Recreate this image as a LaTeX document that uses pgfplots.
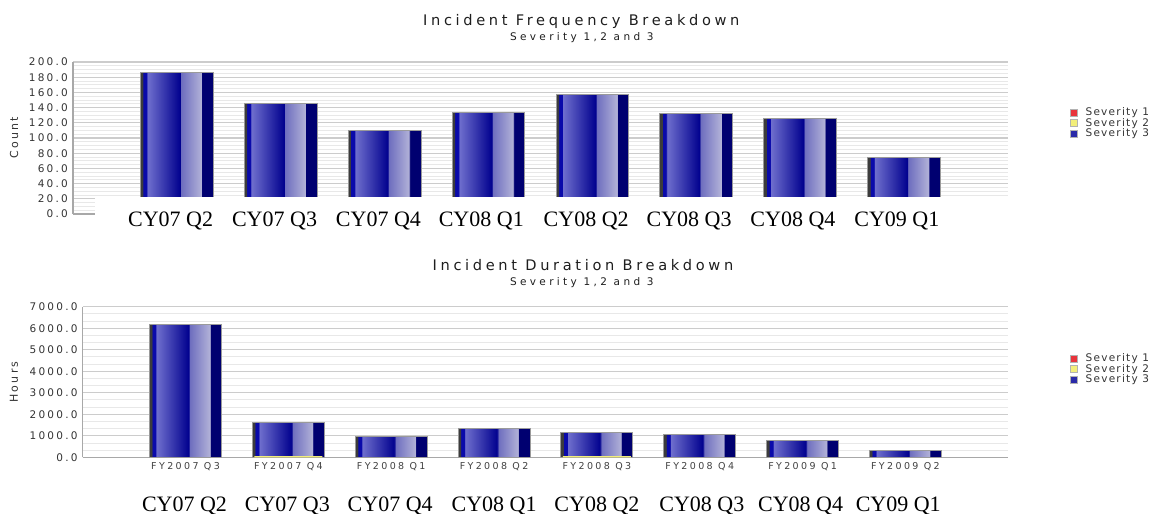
\documentclass[border=0pt]{standalone}
\usepackage{fontspec}
\setmainfont{DejaVu Sans}
\newfontfamily\trkA[LetterSpace=25]{DejaVu Sans}
\newfontfamily\trkB[LetterSpace=32]{DejaVu Sans}
\newfontfamily\trkC[LetterSpace=21]{DejaVu Sans}
\newfontfamily\trkD[LetterSpace=12]{DejaVu Sans}
\newfontfamily\trkE[LetterSpace=25]{DejaVu Sans}
\newfontfamily\tms{Liberation Serif}
\usepackage{pgfplots}
\pgfplotsset{compat=1.18}

\definecolor{titc}{HTML}{1E1E1E}
\definecolor{tkc}{HTML}{333333}
\definecolor{fyc}{HTML}{404040}
\definecolor{axc}{HTML}{A8A8A8}
\definecolor{gmaj}{HTML}{CCCCCC}
\definecolor{gmin}{HTML}{E8E8E8}
\definecolor{bord}{HTML}{9A9A9A}
\definecolor{ca}{HTML}{3C3C3C}
\definecolor{cb}{HTML}{0A0AAA}
\definecolor{cc}{HTML}{7070CE}
\definecolor{cd}{HTML}{00008E}
\definecolor{ce}{HTML}{6C6CBE}
\definecolor{cf}{HTML}{B2B2D8}
\definecolor{cg}{HTML}{000070}
\definecolor{sevred}{HTML}{E8343C}
\definecolor{sevyel}{HTML}{F2EE7A}
\definecolor{sevblu}{HTML}{2A2AA8}

\pgfdeclarehorizontalshading{cyl}{100bp}{color(0bp)=(ca); color(25bp)=(ca); color(26.6bp)=(ca); color(26.8bp)=(cb); color(29.4bp)=(cb); color(29.6bp)=(cc); color(52.4bp)=(cd); color(52.6bp)=(ce); color(67bp)=(cf); color(67.2bp)=(cg); color(75bp)=(cg); color(100bp)=(cg)}

\tikzset{cylab/.style={font=\tms\fontsize{22}{22}\selectfont, anchor=base, inner sep=0pt}}

\pgfplotsset{
  chartbase/.style={
    scale only axis, anchor=south west, set layers, clip=false,
    xmin=-1, xmax=8, ymin=0,
    axis x line*=bottom, axis y line*=left,
    axis line style={draw=axc, line width=1.5pt},
    ymajorgrids, yminorgrids,
    major grid style={draw=gmaj, line width=1.1pt},
    minor grid style={draw=gmin, line width=0.9pt},
    tick style={draw=none},
    yticklabel style={font=\trkC\fontsize{10.5}{10.5}\selectfont, text=tkc, anchor=east, inner sep=0pt, xshift=-5pt,
      /pgf/number format/.cd, fixed, fixed zerofill, precision=1, 1000 sep={}, assume math mode=true},
    every axis y label/.style={rotate=90, anchor=center, font=\trkC\fontsize{11}{11}\selectfont, text=tkc},
    legend style={anchor=north west, draw=none, fill=none, font=\trkD\fontsize{10.5}{10.5}\selectfont, text=tkc,
      row sep=1pt, inner sep=0pt, nodes={inner sep=0pt, anchor=west},
      /tikz/every odd column/.append style={column sep=8pt}},
    legend cell align=left,
    legend image code/.code={\draw[##1] (0pt,-3.5pt) rectangle (7pt,3.5pt);},
  },
  cylbar/.style={ybar, bar width=0.7, bar shift=0pt, shading=cyl, draw=bord, line width=1pt, forget plot},
}

\begin{document}
\begin{tikzpicture}[x=1pt,y=1pt]

% ---------- top chart titles ----------
\node[font=\trkA\fontsize{14.6}{15}\selectfont, text=titc, anchor=base] at (581.3,488.3) {Incident Frequency Breakdown};
\node[font=\trkB\fontsize{10.5}{11}\selectfont, text=titc, anchor=base] at (581.8,473) {Severity 1,2 and 3};

\begin{axis}[chartbase,
  at={(73pt,300pt)}, width=935pt, height=152pt,
  ymax=200, ytick={0,20,...,200}, minor y tick num=3,
  xtick=\empty,
  ylabel={Count},
  every axis y label/.append style={at={(rel axis cs:-0.063,0.5)}},
  legend style={at={(1.0663,0.699)}},
]
\addlegendimage{fill=sevred, draw=gray!60}
\addlegendentry{Severity 1}
\addlegendimage{fill=sevyel, draw=gray!60}
\addlegendentry{Severity 2}
\addlegendimage{fill=sevblu, draw=gray!60}
\addlegendentry{Severity 3}
% Severity 3 counts, one bar per quarter
\addplot[cylbar] coordinates {(0,186)};
\addplot[cylbar] coordinates {(1,146)};
\addplot[cylbar] coordinates {(2,110)};
\addplot[cylbar] coordinates {(3,133)};
\addplot[cylbar] coordinates {(4,157)};
\addplot[cylbar] coordinates {(5,132)};
\addplot[cylbar] coordinates {(6,126)};
\addplot[cylbar] coordinates {(7,74)};
% white overlay with pasted labels
\fill[white] (axis cs:-0.788,22.4) rectangle (axis cs:8.2,-45);
\node[cylab] at (axis cs:-0.06,-16.4) {CY07 Q2};
\node[cylab] at (axis cs:0.94,-16.4) {CY07 Q3};
\node[cylab] at (axis cs:1.94,-16.4) {CY07 Q4};
\node[cylab] at (axis cs:2.93,-16.4) {CY08 Q1};
\node[cylab] at (axis cs:3.94,-16.4) {CY08 Q2};
\node[cylab] at (axis cs:4.93,-16.4) {CY08 Q3};
\node[cylab] at (axis cs:5.93,-16.4) {CY08 Q4};
\node[cylab] at (axis cs:6.93,-16.4) {CY09 Q1};
\end{axis}

% ---------- bottom chart titles ----------
\node[font=\trkA\fontsize{14.6}{15}\selectfont, text=titc, anchor=base] at (583,243.6) {Incident Duration Breakdown};
\node[font=\trkB\fontsize{10.5}{11}\selectfont, text=titc, anchor=base] at (581.8,228.3) {Severity 1,2 and 3};

\begin{axis}[chartbase,
  at={(82.7pt,56.7pt)}, width=925.6pt, height=150.6pt,
  ymax=7000, ytick={0,1000,...,7000}, minor y tick num=2,
  xtick={0,...,7},
  xticklabels={FY2007 Q3, FY2007 Q4, FY2008 Q1, FY2008 Q2, FY2008 Q3, FY2008 Q4, FY2009 Q1, FY2009 Q2},
  xticklabel style={font=\trkE\fontsize{9.5}{9.5}\selectfont, text=fyc, anchor=north, inner sep=0pt, yshift=-5.4pt},
  ylabel={Hours},
  every axis y label/.append style={at={(rel axis cs:-0.0742,0.5)}},
  legend style={at={(1.0667,0.689)}},
]
\addlegendimage{fill=sevred, draw=gray!60}
\addlegendentry{Severity 1}
\addlegendimage{fill=sevyel, draw=gray!60}
\addlegendentry{Severity 2}
\addlegendimage{fill=sevblu, draw=gray!60}
\addlegendentry{Severity 3}
% total hours per quarter (Severity 3 dominant)
\addplot[cylbar] coordinates {(0,6180)};
\addplot[cylbar] coordinates {(1,1610)};
\addplot[cylbar] coordinates {(2,945)};
\addplot[cylbar] coordinates {(3,1350)};
\addplot[cylbar] coordinates {(4,1145)};
\addplot[cylbar] coordinates {(5,1040)};
\addplot[cylbar] coordinates {(6,790)};
\addplot[cylbar] coordinates {(7,325)};
% Severity 2 hours (thin yellow base)
\addplot[ybar, bar width=0.66, bar shift=0pt, fill=sevyel, draw=none, forget plot] coordinates {(1,60) (4,60)};
\node[cylab] at (axis cs:-0.01,-2542) {CY07 Q2};
\node[cylab] at (axis cs:0.99,-2542) {CY07 Q3};
\node[cylab] at (axis cs:1.99,-2542) {CY07 Q4};
\node[cylab] at (axis cs:3.0,-2542) {CY08 Q1};
\node[cylab] at (axis cs:4.0,-2542) {CY08 Q2};
\node[cylab] at (axis cs:5.02,-2542) {CY08 Q3};
\node[cylab] at (axis cs:5.98,-2542) {CY08 Q4};
\node[cylab] at (axis cs:6.93,-2542) {CY09 Q1};
\end{axis}
\pgfresetboundingbox
\useasboundingbox (0,0) rectangle (1152,514);
\end{tikzpicture}
\end{document}
